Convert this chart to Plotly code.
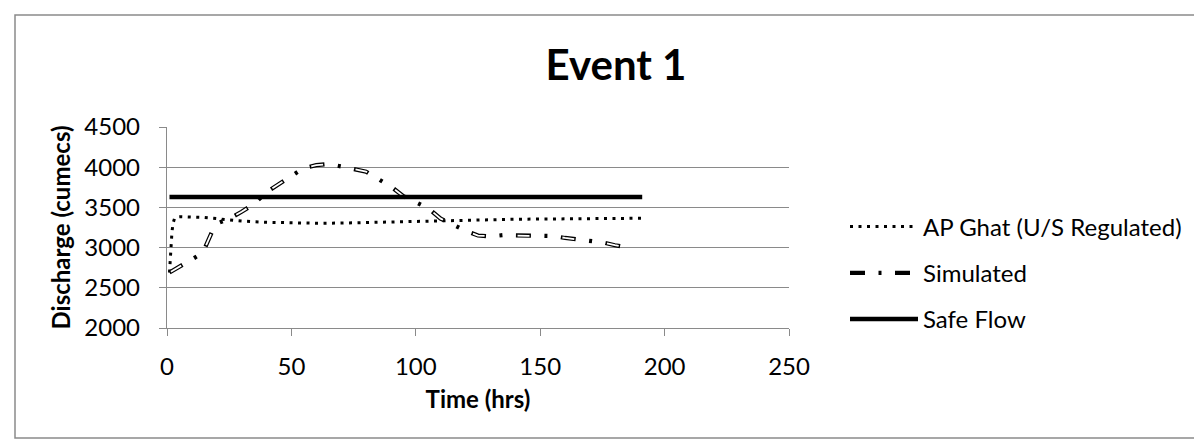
import plotly.graph_objects as go

# ---- data ----
ap_t = [1, 1.5, 2, 2.5, 3, 4, 6, 10, 15, 20, 25, 30, 40, 50, 60, 70, 80, 90,
        100, 110, 120, 130, 140, 150, 160, 170, 180, 191]
ap_q = [2690, 2950, 3200, 3310, 3360, 3380, 3385, 3380, 3375, 3360, 3345, 3330,
        3315, 3305, 3303, 3305, 3312, 3320, 3330, 3338, 3345, 3350, 3353, 3355,
        3358, 3360, 3362, 3365]

sim_t = [1, 3, 6, 9, 12, 15, 18, 21, 25, 30, 35, 40, 45, 50, 55, 60, 65, 70,
         75, 80, 85, 90, 95, 100, 105, 110, 115, 120, 125, 130, 135, 140, 145,
         150, 155, 160, 165, 170, 175, 180, 186]
sim_q = [2690, 2725, 2775, 2830, 2890, 2980, 3190, 3310, 3360, 3445, 3545, 3690,
         3790, 3900, 3990, 4025, 4040, 4010, 3975, 3945, 3850, 3760, 3640, 3560,
         3490, 3360, 3280, 3210, 3150, 3140, 3155, 3150, 3145, 3150, 3145, 3120,
         3100, 3085, 3065, 3030, 2995]

safe_t = [1, 191]
safe_q = [3630, 3630]

x_ticks = [0, 50, 100, 150, 200, 250]
y_ticks = [2000, 2500, 3000, 3500, 4000, 4500]

FONT = "Lato"
GRAY = "#8a8a8a"

W, H = 1202, 440
ML, MR, MT, MB = 159, 421, 119, 120
PW, PH = W - ML - MR, H - MT - MB

fig = go.Figure()

fig.add_trace(go.Scatter(
    x=ap_t, y=ap_q, mode="lines", name="AP Ghat (U/S Regulated)",
    line=dict(color="black", width=3, dash="3px,5.5px"),
    legendgroup="a"))

fig.add_trace(go.Scatter(
    x=sim_t, y=sim_q, mode="lines", name="Simulated",
    line=dict(color="black", width=4.2, dash="15px,13.5px,3px,13.5px"),
    legendgroup="b"))
fig.add_trace(go.Scatter(
    x=sim_t, y=sim_q, mode="lines", name="Simulated", showlegend=False,
    line=dict(color="white", width=1.8, dash="0.1px,1.5px,12px,31.4px"),
    legendgroup="b", hoverinfo="skip"))

fig.add_trace(go.Scatter(
    x=safe_t, y=safe_q, mode="lines", name="Safe Flow",
    line=dict(color="black", width=4.5),
    legendgroup="c"))


def px_x(p):
    return (p - ML) / PW


def px_y(p):
    return (H - MB - p) / PH


fig.update_layout(
    width=W, height=H, autosize=False,
    margin=dict(l=ML, r=MR, t=MT, b=MB),
    paper_bgcolor="white", plot_bgcolor="white",
    font=dict(family=FONT, size=24, color="black"),
    title=dict(text="<b>Event 1</b>", x=608 / W, xref="container",
               xanchor="center", y=1 - 57 / H, yref="container",
               yanchor="middle", font=dict(family=FONT, size=42, color="black")),
    xaxis=dict(range=[0, 250], tickvals=x_ticks, showgrid=False,
               showline=True, linecolor=GRAY, linewidth=1.3,
               ticks="outside", ticklen=7, tickcolor=GRAY, tickwidth=1.3,
               ticklabelstandoff=10, zeroline=False,
               tickfont=dict(family=FONT, size=24),
               title=dict(text="<b>Time (hrs)</b>", standoff=12,
                          font=dict(family=FONT, size=24))),
    yaxis=dict(range=[2000, 4500], tickvals=y_ticks, showgrid=True,
               gridcolor=GRAY, gridwidth=1.3, showline=True, linecolor=GRAY,
               linewidth=1.3, ticks="outside", ticklen=7, tickcolor=GRAY,
               tickwidth=1.3, ticklabelstandoff=14, zeroline=False,
               tickfont=dict(family=FONT, size=24),
               title=dict(text="<b>Discharge (cumecs)</b>", standoff=6,
                          font=dict(family=FONT, size=24))),
    legend=dict(x=px_x(837), xanchor="left", y=px_y(265), yanchor="middle",
                traceorder="grouped", tracegroupgap=12, itemwidth=68,
                font=dict(family=FONT, size=24), bgcolor="rgba(0,0,0,0)"),
    shapes=[dict(type="rect", xref="paper", yref="paper",
                 x0=px_x(7), x1=px_x(1215), y0=px_y(430), y1=px_y(7),
                 line=dict(color=GRAY, width=1.5), layer="below")],
    showlegend=True,
)

fig.write_html("out.html")
